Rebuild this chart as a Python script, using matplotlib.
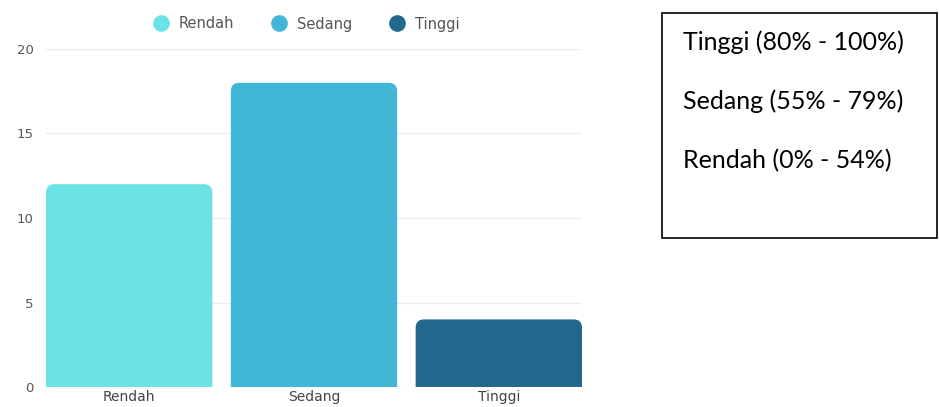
import matplotlib.pyplot as plt
from matplotlib.patches import FancyBboxPatch, Rectangle
from matplotlib.lines import Line2D

categories = ["Rendah", "Sedang", "Tinggi"]
values = [12, 18, 4]
colors = ["#6be3e6", "#41b6d6", "#22688c"]
y_ticks = [0, 5, 10, 15, 20]
box_lines = ["Tinggi (80% - 100%)", "Sedang (55% - 79%)", "Rendah (0% - 54%)"]

plt.rcParams['font.family'] = ['DejaVu Sans']

W, H = 939, 407
fig = plt.figure(figsize=(W / 100, H / 100), dpi=100)
# axes placed in pixel terms: x 46..582, y 49..387 (from top)
ax = fig.add_axes([46 / W, 1 - 387 / H, (582 - 46) / W, (387 - 49) / H])

bars = ax.bar(range(len(categories)), values, width=0.9, color=colors, zorder=2)
ax.set_xlim(-0.45, 2.45)
ax.set_ylim(0, 20)

# rounded tops: swap the plain rectangles for rounded patches
aspect = (20 / 338) / (2.9 / 536)
for b in bars:
    x, w, h = b.get_x(), b.get_width(), b.get_height()
    b.set_visible(False)
    p = FancyBboxPatch((x, -1), w, h + 1,
                       boxstyle="round,pad=0,rounding_size=0.045",
                       mutation_aspect=aspect,
                       facecolor=b.get_facecolor(), edgecolor="none",
                       zorder=2, clip_on=True)
    ax.add_patch(p)

ax.set_yticks(y_ticks)
ax.set_xticks(range(len(categories)))
ax.set_xticklabels(categories)
ax.tick_params(axis="y", length=0, pad=9, labelsize=9.5, labelcolor="#555555")
ax.tick_params(axis="x", length=0, pad=2, labelsize=10, labelcolor="#444444")
ax.grid(axis="y", color="#e8ecf2", linewidth=0.8, zorder=0)
for s in ax.spines.values():
    s.set_visible(False)

handles = [Line2D([], [], marker="o", linestyle="none", markersize=12,
                  markerfacecolor=c, markeredgecolor="none") for c in colors]
fig.legend(handles, categories, loc="center", bbox_to_anchor=(305 / W, 1 - 24 / H),
           ncol=3, frameon=False, fontsize=10.5, labelcolor="#555555",
           handletextpad=0.5, columnspacing=2.4, handlelength=1.4)

# category range box on the right
fig.patches.append(Rectangle((662 / W, 1 - 238 / H), (937 - 662) / W, (238 - 13) / H,
                             transform=fig.transFigure, fill=False,
                             edgecolor="black", linewidth=1.2))
for i, line in enumerate(box_lines):
    fig.text(683 / W, 1 - (42 + 59.5 * i) / H, line, fontsize=18,
             family=["Lato", "DejaVu Sans"], va="center", ha="left", color="black")

fig.savefig("out.png", dpi=100)
